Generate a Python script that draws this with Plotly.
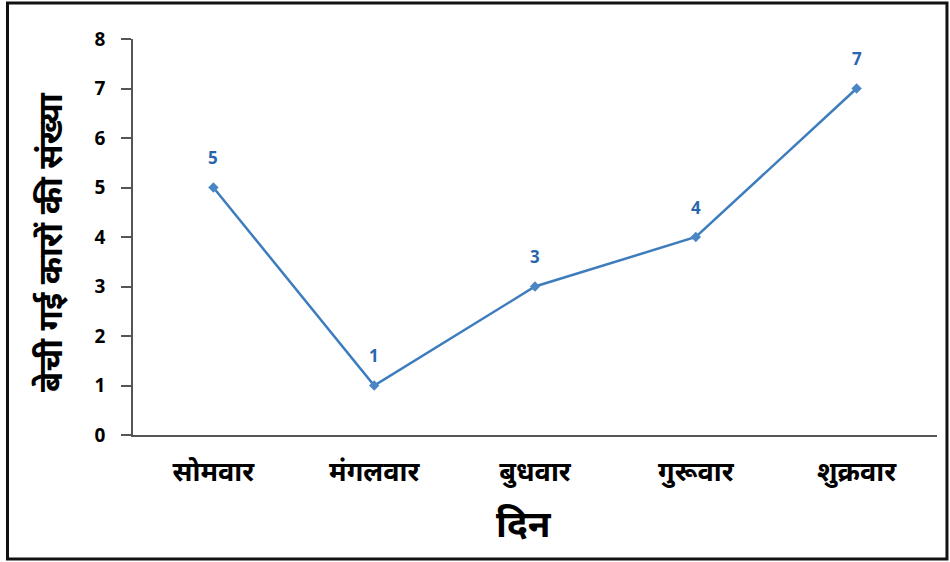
import plotly.graph_objects as go

days = ["सोमवार", "मंगलवार", "बुधवार", "गुरूवार", "शुक्रवार"]
cars_sold = [5, 1, 3, 4, 7]
y_ticks = [0, 1, 2, 3, 4, 5, 6, 7, 8]
x_title = "दिन"
y_title = "बेची गई कारों की संख्या"

LINE = "#3e7dbd"
LABEL = "#2a66ad"
FONT = "Noto Sans, Lato, sans-serif"

fig = go.Figure()
fig.add_trace(go.Scatter(
    x=days, y=cars_sold, mode="lines+markers",
    line=dict(color=LINE, width=2.5),
    marker=dict(symbol="diamond", size=8, color="#4a86c5"),
    hoverinfo="skip", showlegend=False,
))

for d, v in zip(days, cars_sold):
    fig.add_annotation(x=d, y=v, text=f"<b>{v}</b>", showarrow=False,
                       yshift=30, font=dict(size=17, color=LABEL, family=FONT))

fig.add_annotation(xref="paper", yref="paper", x=(524 - 133) / 804, y=(435 - 522) / 396,
                   text=f"<b>{x_title}</b>",
                   showarrow=False, font=dict(size=37, color="black", family=FONT),
                   xanchor="center", yanchor="middle")
fig.add_annotation(xref="paper", yref="paper", x=(49 - 133) / 804, y=(435 - 242) / 396,
                   text=f"<b>{y_title}</b>",
                   showarrow=False, textangle=-90, font=dict(size=33, color="black", family=FONT),
                   xanchor="center", yanchor="middle")

fig.add_shape(type="rect", xref="paper", yref="paper",
              x0=-0.1561, x1=1.0124, y0=-0.3131, y1=1.0909,
              line=dict(color="#111111", width=3), fillcolor="rgba(0,0,0,0)")

fig.update_layout(
    width=950, height=562,
    margin=dict(l=133, r=13, t=39, b=127),
    paper_bgcolor="white", plot_bgcolor="white",
    font=dict(family=FONT, color="black"),
)
fig.update_xaxes(
    type="category", range=[-0.5, 4.5], showline=True, linecolor="#555555", linewidth=1.5,
    showgrid=False, ticks="outside", ticklen=12, tickcolor="rgba(0,0,0,0)",
    tickfont=dict(size=27, family=FONT), tickvals=days,
    ticktext=[f"<b>{d}</b>" for d in days],
)
fig.update_yaxes(
    range=[0, 8], tickvals=y_ticks, ticktext=[f"<b>{t}</b>" for t in y_ticks],
    showline=True, linecolor="#555555", linewidth=1.5, showgrid=False,
    ticks="outside", ticklen=10, tickcolor="#555555", tickwidth=1.5,
    ticklabelstandoff=12,
    tickfont=dict(size=19, family=FONT), zeroline=False,
)

fig.write_html("out.html", config={"displayModeBar": False},
               post_script="document.body.style.margin='0';")
